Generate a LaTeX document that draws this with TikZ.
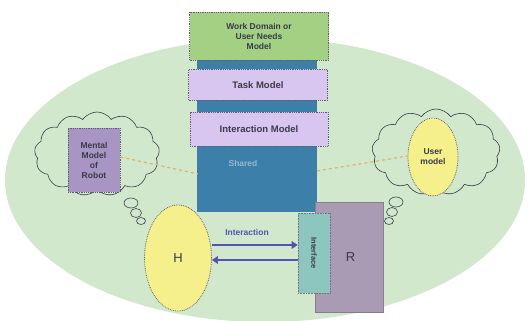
\documentclass[tikz,border=0pt]{standalone}
\usepackage{fontspec}
\setmainfont{Liberation Sans}
\usetikzlibrary{shapes.symbols,shapes.geometric,arrows.meta}
\definecolor{bgg}{HTML}{D2E8CC}
\definecolor{wdg}{HTML}{A3D083}
\definecolor{lav}{HTML}{D8C6F0}
\definecolor{steel}{HTML}{3C7FA8}
\definecolor{mmp}{HTML}{A895C4}
\definecolor{yel}{HTML}{F6F08C}
\definecolor{teal2}{HTML}{8CC6BE}
\definecolor{rgrey}{HTML}{A99BB4}
\definecolor{arr}{HTML}{5552B4}
\definecolor{txt}{HTML}{3A3A4A}
\definecolor{linkorange}{HTML}{E0B070}
\tikzset{
  box/.style={draw=txt!80, densely dotted, line width=0.8pt, font=\bfseries\fontsize{8.5}{10}\selectfont, text=txt, align=center, inner sep=0pt},
  thought/.style={cloud, cloud puffs=13, cloud puff arc=110, draw=txt, line width=0.6pt, fill=bgg},
  bub/.style={ellipse, draw=txt, line width=0.6pt, fill=bgg, inner sep=0pt},
  iarrow/.style={draw=arr, line width=2.4pt, -{Triangle[length=6pt,width=7.5pt]}},
  linkline/.style={draw=linkorange, dashed, line width=1.2pt}
}
\begin{document}
\begin{tikzpicture}[x=1pt,y=-1pt]
\useasboundingbox (0,0) rectangle (528,321);
\fill[white] (0,0) rectangle (528,321);
\node[ellipse, fill=bgg, minimum width=520pt, minimum height=284pt] (bg) at (265,180) {};
% stack
\node[fill=steel, minimum width=120pt, minimum height=152pt, inner sep=0pt] (shared) at (257,136) {};
\node[font=\bfseries\fontsize{8.5}{10}\selectfont, text=steel!55!white] (sharedlbl) at (243,163) {Shared};
\node[box, fill=wdg, minimum width=139pt, minimum height=48pt] (wd) at (259,36) {Work Domain or\\User Needs\\Model};
\node[box, fill=lav, minimum width=139pt, minimum height=31pt, font=\bfseries\fontsize{9.5}{11}\selectfont] (task) at (258,85) {Task Model};
\node[box, fill=lav, minimum width=138pt, minimum height=34pt, font=\bfseries\fontsize{9.5}{11}\selectfont] (inter) at (259,129) {Interaction Model};
% clouds
\node[thought, minimum width=125pt, minimum height=84pt] (lcloud) at (97,154) {};
\node[thought, minimum width=128pt, minimum height=86pt] (rcloud) at (436,152) {};
\node[box, fill=mmp, minimum width=52pt, minimum height=64pt] (mm) at (94,160) {Mental\\Model\\of\\Robot};
\node[ellipse, draw=txt!80, densely dotted, line width=0.8pt, fill=yel, minimum width=50pt, minimum height=78pt, font=\bfseries\fontsize{8.5}{10}\selectfont, text=txt, align=center, inner sep=0pt] (um) at (433,157) {User\\model};
% bubbles
\node[bub, minimum width=14pt, minimum height=10pt] (lb1) at (131,203) {};
\node[bub, minimum width=11pt, minimum height=9pt] (lb2) at (136,213) {};
\node[bub, minimum width=9pt, minimum height=7pt] (lb3) at (141,221) {};
\node[bub, minimum width=14pt, minimum height=10pt] (rb1) at (396,202) {};
\node[bub, minimum width=11pt, minimum height=9pt] (rb2) at (392,212) {};
\node[bub, minimum width=9pt, minimum height=7pt] (rb3) at (389,221) {};
% dashed links
\coordinate (sl) at (198,174);
\coordinate (sr) at (317,171);
\draw[linkline] (mm.east |- 0,157) -- (sl);
\draw[linkline] (sr) -- (um.west |- 0,156);
% H and R
\node[ellipse, draw=txt!80, densely dotted, line width=0.8pt, fill=yel, minimum width=67pt, minimum height=106pt, font=\fontsize{13}{14}\selectfont, text=txt] (H) at (178,258) {H};
\node[fill=rgrey, draw=rgrey!80!black, line width=0.5pt, minimum width=68pt, minimum height=110pt, inner sep=0pt, font=\fontsize{13}{14}\selectfont, text=txt] (R) at (349,257) {\hspace*{3pt}R};
\node[fill=teal2, draw=txt!70, densely dotted, line width=0.6pt, minimum width=32pt, minimum height=80pt, inner sep=0pt] (iface) at (314,253) {};
\node[rotate=-90, font=\bfseries\fontsize{7.5}{8}\selectfont, text=txt] (ifacelbl) at (iface.center) {Interface};
% arrows
\draw[iarrow] (H.east |- 0,245) -- (iface.west |- 0,245);
\draw[iarrow] (iface.west |- 0,260) -- (H.east |- 0,260);
\node[font=\bfseries\fontsize{8.5}{10}\selectfont, text=arr] (ilbl) at (247,232) {Interaction};
\end{tikzpicture}
\end{document}
